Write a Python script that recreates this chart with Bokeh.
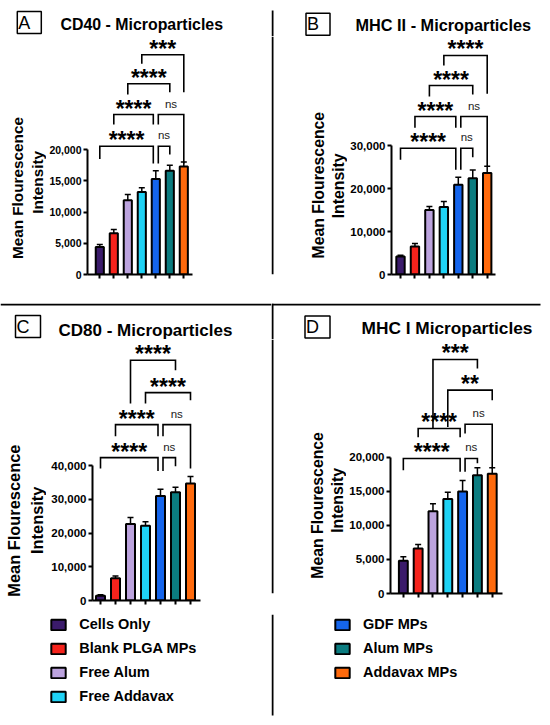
from bokeh.plotting import figure
from bokeh.models import (ColumnDataSource, Range1d, FixedTicker, NumeralTickFormatter,
                          Label, Legend, LegendItem, Whisker, TeeHead, BoxAnnotation)
from bokeh.layouts import row, column
from bokeh.embed import file_html
from bokeh.resources import INLINE
from bokeh.core.properties import value

# ---------------- data ----------------
groups = ["Cells Only", "Blank PLGA MPs", "Free Alum", "Free Addavax",
          "GDF MPs", "Alum MPs", "Addavax MPs"]
colors = ["#3b1b6b", "#f5231c", "#bca3de", "#1fd2f5", "#1565ec", "#0b7c80", "#ff6a0d"]

a_mean = [4400, 6600, 11900, 13200, 15300, 16600, 17300]
a_err = [400, 600, 900, 700, 1300, 900, 700]
a_ticks = [0, 5000, 10000, 15000, 20000]
a_cmp_from = [0, 4, 1, 4, 2, 3]
a_cmp_to = [4, 5, 4, 6, 5, 6]
a_cmp_label = ["****", "ns", "****", "ns", "****", "***"]

b_mean = [4200, 6500, 15000, 15700, 20900, 22400, 23600]
b_err = [250, 700, 800, 1300, 1700, 1900, 1600]
b_ticks = [0, 10000, 20000, 30000]
b_cmp_from = [0, 4, 1, 4, 2, 3]
b_cmp_to = [4, 5, 4, 6, 5, 6]
b_cmp_label = ["****", "ns", "****", "ns", "****", "****"]

c_mean = [1400, 6600, 22700, 22200, 31000, 32100, 34700]
c_err = [300, 700, 1900, 1200, 2000, 1500, 2100]
c_ticks = [0, 10000, 20000, 30000, 40000]
c_cmp_from = [0, 4, 1, 4, 3, 2]
c_cmp_to = [4, 5, 4, 6, 6, 5]
c_cmp_label = ["****", "ns", "****", "ns", "****", "****"]

d_mean = [4800, 6600, 12100, 13900, 15000, 17400, 17600]
d_err = [600, 600, 1100, 1000, 1600, 1100, 900]
d_ticks = [0, 5000, 10000, 15000, 20000]
d_cmp_from = [0, 4, 1, 4, 3, 2]
d_cmp_to = [4, 5, 4, 6, 6, 5]
d_cmp_label = ["****", "ns", "****", "ns", "**", "***"]

ylabel_lines = ["Mean Flourescence", "Intensity"]

# bracket layout (heights in data units: level, left leg end, right leg end)
a_br_level = [20530, 20530, 25600, 25600, 30510, 35150]
a_br_left = [18480, 17760, 24000, 24000, 28800, 33710]
a_br_right = [17760, 19200, 24000, 17760, 29170, 29170]
b_br_level = [29380, 29380, 36750, 36750, 43960, 50940]
b_br_left = [26680, 24350, 34120, 34120, 41400, 48610]
b_br_right = [24350, 27280, 34120, 25190, 41870, 42030]
c_br_level = [42380, 42380, 52180, 52180, 61690, 71280]
c_br_left = [39200, 38400, 48710, 48710, 58420, 58420]
c_br_right = [38400, 39800, 48710, 39200, 59400, 68310]
d_br_level = [19850, 19850, 24260, 24890, 29890, 34400]
d_br_left = [18130, 17880, 22980, 23520, 24490, 24260]
d_br_right = [17880, 19150, 22980, 18380, 28420, 33080]

FONT = "Liberation Sans"


def pix_fig(w, h):
    """helper figure whose data units are pixels (y downward)"""
    f = figure(width=w, height=h, x_range=Range1d(0, w), y_range=Range1d(h, 0),
               min_border_left=0, min_border_right=0, min_border_top=0, min_border_bottom=0,
               toolbar_location=None, output_backend="svg",
               x_axis_location=None, y_axis_location=None, outline_line_color=None,
               background_fill_color="white", border_fill_color="white")
    f.grid.visible = False
    return f


def rule(f, x0, x1, y0, y1):
    f.add_layout(BoxAnnotation(left=x0, right=x1, top=y0, bottom=y1, fill_color="black",
                               fill_alpha=1, line_alpha=0))


def header(w, h, letter, lxy, title, txy, tfs):
    f = pix_fig(w, h)
    f.add_layout(Label(x=lxy[0], y=lxy[1], text=" " + letter + " ", text_font=FONT,
                       text_font_size="18px", text_align="center", text_baseline="middle",
                       text_color="black", border_line_color="black", border_line_width=1.5,
                       padding=1))
    f.add_layout(Label(x=txy[0], y=txy[1], text=title, text_font=FONT, text_font_size=tfs,
                       text_font_style="bold", text_align="left", text_baseline="middle",
                       text_color="black"))
    return f


def ylab(w, h, xy1, xy2, fs):
    """two rotated lines, each anchored at its lower (starting) end"""
    f = pix_fig(w, h)
    for (x, y), t in zip((xy1, xy2), ylabel_lines):
        f.add_layout(Label(x=x, y=y, text=t, text_font=FONT, text_font_size=fs,
                           text_font_style="bold", text_align="left", text_baseline="middle",
                           angle=90, angle_units="deg", text_color="black"))
    return f


def chart(cfg):
    W, H, L, B = cfg["W"], cfg["H"], cfg["left"], cfg["bottom"]
    sp = cfg["spacing"]
    fw, fh = W - L, H - B
    xs = -cfg["bar0"] / sp
    xe = xs + fw / sp
    ye = fh * cfg["per_px"]
    p = figure(width=W, height=H, x_range=Range1d(xs, xe), y_range=Range1d(0, ye),
               min_border_left=L, min_border_right=0, min_border_top=0, min_border_bottom=B,
               toolbar_location=None, output_backend="svg", outline_line_color=None,
               background_fill_color="white", border_fill_color="white")
    p.grid.visible = False

    mean, err = cfg["mean"], cfg["err"]
    src = ColumnDataSource(dict(
        x=list(range(len(mean))), top=mean, color=colors, name=groups,
        upper=[m + e for m, e in zip(mean, err)], lower=[m - e for m, e in zip(mean, err)]))
    p.vbar(x="x", top="top", width=cfg["bar_w"], source=src, fill_color="color",
           line_color="black", line_width=2)
    p.add_layout(Whisker(source=src, base="x", upper="upper", lower="lower",
                         line_color="black", line_width=1.5,
                         upper_head=TeeHead(size=6, line_width=1.5, line_color="black"),
                         lower_head=TeeHead(size=6, line_width=1.5, line_color="black")))

    yticks = cfg["ticks"]
    yax = p.yaxis[0]
    yax.ticker = FixedTicker(ticks=yticks)
    yax.formatter = NumeralTickFormatter(format="0,0")
    yax.bounds = (0, yticks[-1])
    xax = p.xaxis[0]
    xax.ticker = FixedTicker(ticks=list(range(len(mean))))
    xax.bounds = (xs, cfg["x_axis_end"])
    xax.major_label_overrides = {k: "" for k in range(len(mean))}
    xax.major_label_text_font_size = "1px"
    xax.major_label_text_color = None
    xax.major_label_standoff = 0
    for ax in (xax, yax):
        ax.axis_line_width = 2
        ax.axis_line_color = "black"
        ax.major_tick_line_width = 2
        ax.major_tick_line_color = "black"
        ax.major_tick_out = 4
        ax.major_tick_in = 0
        ax.minor_tick_line_color = None
    yax.major_label_text_font = FONT
    yax.major_label_text_font_style = "bold"
    yax.major_label_text_font_size = cfg["tick_fs"]
    yax.major_label_text_color = "black"
    yax.major_label_standoff = 2

    # significance brackets
    sh = 2.5 / sp
    cfrom, cto = cfg["cfrom"], cfg["cto"]
    bx, by, sx, sy, st, nx, ny, nt = [], [], [], [], [], [], [], []
    for i, j, lab, h, lb, rb in zip(cfrom, cto, cfg["clab"], cfg["lvl"], cfg["lleg"], cfg["rleg"]):
        xl = i + (sh if i in cto else 0)
        xr = j - (sh if j in cfrom else 0)
        bx.append([xl, xl, xr, xr])
        by.append([lb, h, h, rb])
        mid = (xl + xr) / 2
        if lab == "ns":
            nx.append(mid); ny.append(h); nt.append(lab)
        else:
            sx.append(mid); sy.append(h); st.append(lab)
    p.multi_line(xs=bx, ys=by, line_color="black", line_width=1.6, line_join="miter")
    p.text(x=sx, y=sy, text=st, text_font=value(FONT), text_font_style="bold",
           text_font_size=value("23px"), text_align="center", text_baseline="middle",
           y_offset=-6, text_color="black")
    p.text(x=nx, y=ny, text=nt, text_font=value(FONT), text_font_style="normal",
           text_font_size=value("11.5px"), text_align="center", text_baseline="middle",
           y_offset=-11, text_color="#1a1a1a")
    return p, src


def legend_fig(w, h, src, idxs, gx, gtop):
    f = pix_fig(w, h)
    r = f.vbar(x="x", top="top", width=0.6, source=src, fill_color="color",
               line_color="black", line_width=2, visible=False)
    n = len(idxs)
    item_h, spc = 16, 8
    leg_h = n * item_h + (n - 1) * spc
    f.add_layout(Legend(items=[LegendItem(label=groups[k], renderers=[r], index=k) for k in idxs],
                        location=(gx, h - (gtop + leg_h)), orientation="vertical",
                        border_line_color=None, background_fill_alpha=0, padding=0, margin=0,
                        spacing=spc, glyph_width=18, glyph_height=13, label_height=13,
                        label_standoff=12, label_text_font=FONT, label_text_font_style="bold",
                        label_text_font_size="14.5px", label_text_color="black"))
    return f


# ---------- panel A (x 0..271, y 0..303) ----------
hA = header(271, 35, "A", (28.8, 22), "CD40 - Microparticles", (60, 24), "15.9px")
yA = ylab(46, 268, (17, 250.7), (37, 200), "15.3px")
cA, sA = chart(dict(W=225, H=268, left=41, bottom=29, bar0=12.3, spacing=14, per_px=160,
                    bar_w=0.58, x_axis_end=6.62, ticks=a_ticks, tick_fs="10.5px",
                    mean=a_mean, err=a_err, cfrom=a_cmp_from, cto=a_cmp_to, clab=a_cmp_label,
                    lvl=a_br_level, lleg=a_br_left, rleg=a_br_right))
colA = column(hA, row(yA, cA))

# ---------- panel B (x 271..550, y 0..303) ----------
hB = header(279, 36, "B", (46.5, 23.8), "MHC II - Microparticles", (84, 24), "16.3px")
rule(hB, 0, 2, 10, 36)
yB = ylab(76, 267, (47.3, 249), (67.3, 204), "15.8px")
rule(yB, 0, 2, 0, 267)
cB, sB = chart(dict(W=203, H=267, left=44, bottom=29, bar0=9, spacing=14.45, per_px=232.6,
                    bar_w=0.58, x_axis_end=6.57, ticks=b_ticks, tick_fs="11.5px",
                    mean=b_mean, err=b_err, cfrom=b_cmp_from, cto=b_cmp_to, clab=b_cmp_label,
                    lvl=b_br_level, lleg=b_br_left, rleg=b_br_right))
colB = column(hB, row(yB, cB))

# ---------- panel C (x 0..271, y 303..725) ----------
hC = header(271, 37, "C", (27.5, 23), "CD80 - Microparticles", (58, 27), "17px")
rule(hC, 0, 271, 0, 2)
yC = ylab(46, 274, (13, 270), (36.7, 225), "16.4px")
cC, sC = chart(dict(W=225, H=274, left=46, bottom=14, bar0=8, spacing=15, per_px=296.7,
                    bar_w=0.6, x_axis_end=6.67, ticks=c_ticks, tick_fs="11.5px",
                    mean=c_mean, err=c_err, cfrom=c_cmp_from, cto=c_cmp_to, clab=c_cmp_label,
                    lvl=c_br_level, lleg=c_br_left, rleg=c_br_right))
lC = legend_fig(271, 111, sC, [0, 1, 2, 3], 49.3, 2)
colC = column(hC, row(yC, cC), lC)

# ---------- panel D (x 271..550, y 303..725) ----------
hD = header(279, 36, "D", (46, 23.5), "MHC I Microparticles", (90, 24.3), "17.3px")
rule(hD, 0, 269, 0, 2)
rule(hD, 0, 2, 0, 36)
yD = ylab(75, 275, (45.7, 259), (65.7, 209.3), "15.8px")
rule(yD, 0, 2, 0, 275)
cD, sD = chart(dict(W=204, H=275, left=42, bottom=21, bar0=13, spacing=15, per_px=147,
                    bar_w=0.6, x_axis_end=6.71, ticks=d_ticks, tick_fs="11.5px",
                    mean=d_mean, err=d_err, cfrom=d_cmp_from, cto=d_cmp_to, clab=d_cmp_label,
                    lvl=d_br_level, lleg=d_br_left, rleg=d_br_right))
lD = legend_fig(279, 111, sD, [4, 5, 6], 62, 2)
rule(lD, 0, 2, 0, 101)
colD = column(hD, row(yD, cD), lD)

layout = column(row(colA, colB), row(colC, colD))

open("out.html", "w").write(file_html(layout, INLINE))
